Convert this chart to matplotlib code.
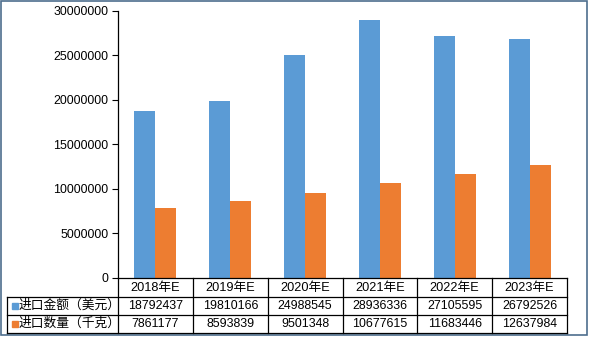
import matplotlib
matplotlib.use("Agg")
import matplotlib.pyplot as plt
from matplotlib.lines import Line2D
from matplotlib.patches import Rectangle

plt.rcParams["font.family"] = ["Liberation Sans", "Noto Sans CJK SC", "DejaVu Sans"]

# ======================
# Data
# ======================
years = ["2018年E", "2019年E", "2020年E", "2021年E", "2022年E", "2023年E"]
amount_usd = [18792437, 19810166, 24988545, 28936336, 27105595, 26792526]
quantity_kg = [7861177, 8593839, 9501348, 10677615, 11683446, 12637984]
series_names = ["进口金额（美元）", "进口数量（千克）"]

BLUE = "#5B9BD5"
ORANGE = "#ED7D31"
FRAME = "#4E6E8E"
FS = 8.9
FS_CJK = 9.2

W, H = 589, 338
fig = plt.figure(figsize=(W / 100, H / 100), dpi=100)


def fx(px):
    return px / W


def fy(py):
    return 1 - py / H


# plot area in pixel coordinates
left, right, top, bottom = 118, 567, 10.7, 278
ax = fig.add_axes([fx(left), fy(bottom), fx(right - left), (bottom - top) / H])

n = len(years)
bw = 0.28
xs = list(range(n))
ax.bar([x - bw / 2 for x in xs], amount_usd, width=bw, color=BLUE)
ax.bar([x + bw / 2 for x in xs], quantity_kg, width=bw, color=ORANGE)

ax.set_xlim(-0.5, n - 0.5)
ax.set_ylim(0, 30000000)
ax.set_yticks(range(0, 30000001, 5000000))
ax.set_yticklabels([str(v) for v in range(0, 30000001, 5000000)])
ax.tick_params(axis="y", direction="out", length=4, width=0.8, labelsize=FS, pad=3)
ax.set_xticks([])
for s in ["top", "right"]:
    ax.spines[s].set_visible(False)
ax.spines["left"].set_linewidth(0.9)
ax.spines["bottom"].set_linewidth(0.9)

# ======================
# Data table under the plot
# ======================
row_y = [278, 297, 315, 333]
label_left = 7
col_w = (right - left) / n


def hline(y, x0, x1):
    fig.add_artist(Line2D([fx(x0), fx(x1)], [fy(y), fy(y)], color="black", lw=0.9))


def vline(x, y0, y1):
    fig.add_artist(Line2D([fx(x), fx(x)], [fy(y0), fy(y1)], color="black", lw=0.9))


hline(row_y[1], label_left, right)
hline(row_y[2], label_left, right)
hline(row_y[3], label_left, right)
vline(label_left, row_y[1], row_y[3])
for k in range(n + 1):
    vline(left + k * col_w, row_y[0], row_y[3])

for i, yr in enumerate(years):
    cx = left + (i + 0.5) * col_w
    fig.text(fx(cx), fy((row_y[0] + row_y[1]) / 2), yr, ha="center", va="center",
             fontsize=FS_CJK)

rows = [amount_usd, quantity_kg]
colors = [BLUE, ORANGE]
for r, (vals, name, c) in enumerate(zip(rows, series_names, colors)):
    cy = (row_y[r + 1] + row_y[r + 2]) / 2
    fig.add_artist(Rectangle((fx(12), fy(cy + 3)), fx(6), 6 / H, color=c))
    fig.text(fx(19), fy(cy), name, ha="left", va="center", fontsize=FS_CJK)
    for i, v in enumerate(vals):
        cx = left + (i + 0.5) * col_w
        fig.text(fx(cx), fy(cy), str(v), ha="center", va="center", fontsize=FS)

# outer frame
fig.add_artist(Rectangle((fx(1), fy(335)), fx(586), 334 / H, fill=False,
                         edgecolor=FRAME, lw=1.2))

fig.savefig("out.png", dpi=100, facecolor="white")
